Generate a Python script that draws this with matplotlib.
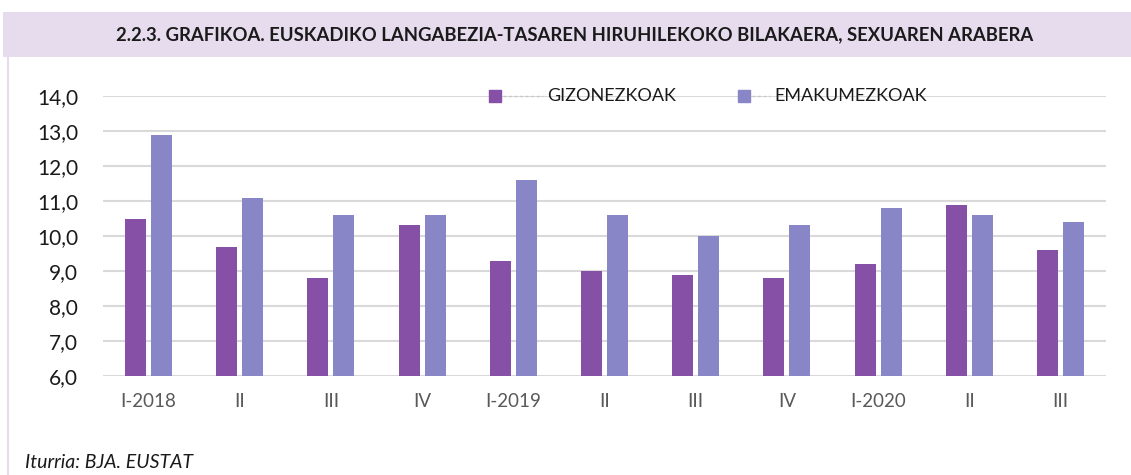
import matplotlib
matplotlib.use("Agg")
import matplotlib.pyplot as plt
import numpy as np
from matplotlib.patches import Rectangle
from matplotlib.lines import Line2D

categories = ["I-2018", "II", "III", "IV", "I-2019", "II", "III", "IV", "I-2020", "II", "III"]
gizonezkoak = [10.5, 9.7, 8.8, 10.3, 9.3, 9.0, 8.9, 8.8, 9.2, 10.9, 9.6]
emakumezkoak = [12.9, 11.1, 10.6, 10.6, 11.6, 10.6, 10.0, 10.3, 10.8, 10.6, 10.4]
yticks = [6, 7, 8, 9, 10, 11, 12, 13, 14]
series_names = ["GIZONEZKOAK", "EMAKUMEZKOAK"]
title = "2.2.3. GRAFIKOA. EUSKADIKO LANGABEZIA-TASAREN HIRUHILEKOKO BILAKAERA, SEXUAREN ARABERA"
source = "Iturria: BJA. EUSTAT"

c_g = "#8650A6"
c_e = "#8886C6"
colors = [c_g, c_e]

plt.rcParams['font.family'] = ['Lato', 'DejaVu Sans']

W, H = 1131, 475
fig = plt.figure(figsize=(W/100, H/100), dpi=100)

# title band
fig.patches.append(Rectangle((3/W, 1 - 57/H), 1 - 3/W, 45/H, transform=fig.transFigure,
                             facecolor="#E6DCEE", edgecolor="none", zorder=0))
fig.lines.append(Line2D([8/W, 8/W], [0, 1 - 57/H], transform=fig.transFigure,
                        color="#E6DCEE", lw=1.5))
fig.text(575/W, 1 - 35/H, title, ha="center", va="center", fontsize=13.3,
         fontweight="bold", color="#1a1a1a")
fig.text(25/W, 1 - 462/H, source, ha="left", va="center", fontsize=14,
         style="italic", color="#1a1a1a")

ax = fig.add_axes([103/W, 1 - 376/H, (1106 - 103)/W, (376 - 96)/H])
x = np.arange(len(categories))
bw = 0.23
gap = 0.055
ax.bar(x - (bw + gap)/2, [v - 6 for v in gizonezkoak], bw, bottom=6, color=c_g, zorder=3)
ax.bar(x + (bw + gap)/2, [v - 6 for v in emakumezkoak], bw, bottom=6, color=c_e, zorder=3)
ax.set_xlim(-0.5, len(categories) - 0.5)
ax.set_ylim(6, 14)
ax.set_yticks(yticks)
ax.set_yticklabels([f"{v:.1f}".replace(".", ",") for v in yticks], fontsize=15, color="#1a1a1a")
ax.set_xticks(x)
ax.set_xticklabels(categories, fontsize=13.5, color="#595959")
ax.tick_params(axis="y", length=0, pad=18)
ax.tick_params(axis="x", length=0, pad=12)
ax.grid(axis="y", color="#D9D9D9", lw=1.5, zorder=0)
for s in ax.spines.values():
    s.set_visible(False)
ax.set_axisbelow(True)

# legend (manual placement to match the reference)
leg_y = 1 - 96/H
marker_x = [495, 744]
text_x = [547, 774]
for name, col, mx, tx in zip(series_names, colors, marker_x, text_x):
    fig.lines.append(Line2D([(mx + 8)/W, (tx - 4)/W], [leg_y, leg_y], transform=fig.transFigure,
                            color="#C8C8C8", lw=1, ls=(0, (2, 2))))
    fig.lines.append(Line2D([mx/W], [leg_y], transform=fig.transFigure, marker="s",
                            markersize=8.5, color=col, ls="none"))
    fig.text(tx/W, leg_y, name, ha="left", va="center", fontsize=13, color="#1a1a1a")

fig.savefig("out.png", dpi=100)
